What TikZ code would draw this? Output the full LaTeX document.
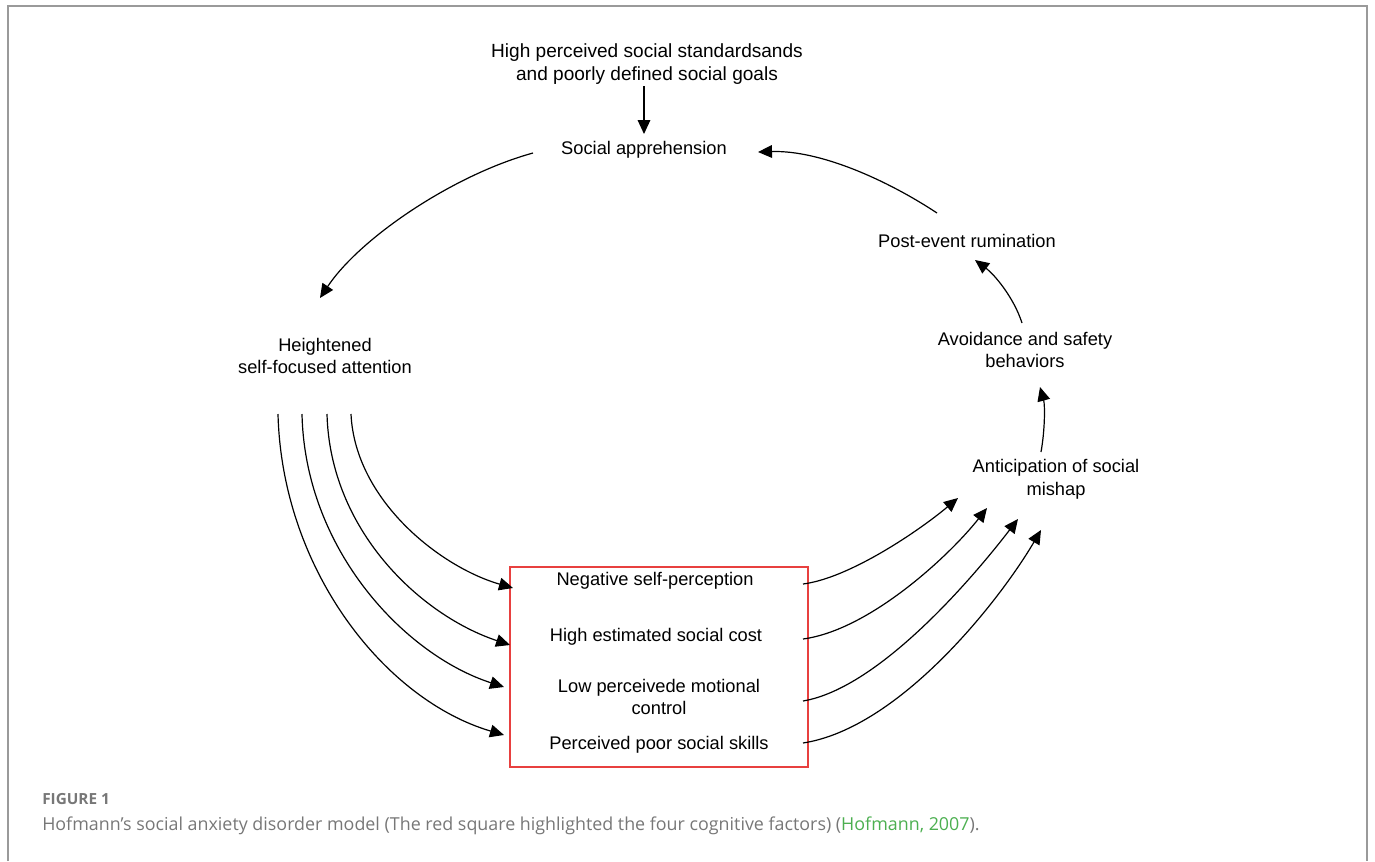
\documentclass[tikz,border=0pt]{standalone}
\usepackage{fontspec}
\setmainfont{Liberation Sans}
\newfontfamily\capfont{Open Sans}
\usetikzlibrary{arrows.meta}
\definecolor{framegray}{HTML}{9A9A9A}
\definecolor{capgray}{HTML}{777777}
\definecolor{citegreen}{HTML}{4CAF50}
\definecolor{boxred}{HTML}{E8403F}
\tikzset{
  lbl/.style={align=center, inner sep=0pt, font=\fontsize{13.7}{17}\selectfont},
  conn/.style={line width=0.9pt, -{Triangle[length=10.5pt,width=9.5pt]}},
}
\begin{document}
\begin{tikzpicture}[x=0.75pt,y=-0.75pt]
\useasboundingbox (0,0) rectangle (1375,861);
% frame
\draw[framegray, line width=1.2pt] (8,861) -- (8,6) -- (1367,6) -- (1367,861);

% nodes
\node[lbl, font=\fontsize{14.3}{17.3}\selectfont] (top) at (647,64) {High perceived social standardsands\\and poorly defined social goals};
\node[lbl] (soc) at (644,150) {Social apprehension};
\node[lbl] (hsf) at (325,356) {Heightened\\self-focused attention};
\node[lbl] (per) at (967,241) {Post-event rumination};
\node[lbl] (avo) at (1025,350) {Avoidance and safety\\behaviors};
\node[lbl] (ant) at (1056,479) {Anticipation of social\\mishap};

\node[draw=boxred, line width=0.9pt, minimum width=298*0.75pt, minimum height=200*0.75pt, inner sep=0pt] (box) at (659,667) {};
\node[lbl] (nsp) at (655,581) {Negative self-perception};
\node[lbl] (hsc) at (656,637) {High estimated social cost};
\node[lbl] (lpc) at (659,697) {Low perceivede motional\\control};
\node[lbl] (pps) at (659,745) {Perceived poor social skills};

% connector end points
\coordinate (topS) at (644,86);
\coordinate (socN) at (644,134);
\coordinate (socW) at (533,153);
\coordinate (hsfN) at (320,298);
\coordinate (perN) at (937,213);
\coordinate (socE) at (758,152);
\coordinate (avoN) at (1022,323);
\coordinate (perS) at (975,260);
\coordinate (antN) at (1041,452);
\coordinate (avoS) at (1040,387);

\coordinate (hsf1) at (351,414);
\coordinate (hsf2) at (327,414);
\coordinate (hsf3) at (302,414);
\coordinate (hsf4) at (278,414);
\coordinate (in1) at (513,588);
\coordinate (in2) at (510,645);
\coordinate (in3) at (504,687);
\coordinate (in4) at (504,735);

\coordinate (out1) at (803,584);
\coordinate (out2) at (803,639);
\coordinate (out3) at (803,701);
\coordinate (out4) at (803,743);
\coordinate (ant1) at (958,498);
\coordinate (ant2) at (987,508);
\coordinate (ant3) at (1018,519);
\coordinate (ant4) at (1041,530);

% connectors
\draw[conn] (topS) -- (socN);
\draw[conn] (socW) .. controls (453,175) and (360,238) .. (hsfN);
\draw[conn] (perN) .. controls (887,180) and (820,150) .. (socE);
\draw[conn] (avoN) .. controls (1014,298) and (995,275) .. (perS);
\draw[conn] (antN) .. controls (1045,430) and (1045,405) .. (avoS);

\draw[conn] (hsf1) .. controls (355,500) and (440,567) .. (in1);
\draw[conn] (hsf2) .. controls (330,530) and (420,615) .. (in2);
\draw[conn] (hsf3) .. controls (305,550) and (405,655) .. (in3);
\draw[conn] (hsf4) .. controls (282,570) and (385,700) .. (in4);

\draw[conn] (out1) .. controls (850,578) and (920,530) .. (ant1);
\draw[conn] (out2) .. controls (870,630) and (950,555) .. (ant2);
\draw[conn] (out3) .. controls (880,688) and (975,575) .. (ant3);
\draw[conn] (out4) .. controls (900,728) and (1000,600) .. (ant4);

% caption
\node[anchor=base west, inner sep=0pt, text=capgray, font=\capfont\fontsize{11.5}{13}\selectfont\bfseries] (fig) at (42,804) {FIGURE 1};
\node[anchor=base west, inner sep=0pt, text=capgray, font=\capfont\fontsize{13.4}{16}\selectfont] (cap) at (42,830) {Hofmann’s social anxiety disorder model (The red square highlighted the four cognitive factors) (\textcolor{citegreen}{Hofmann, 2007}).};
\end{tikzpicture}
\end{document}
